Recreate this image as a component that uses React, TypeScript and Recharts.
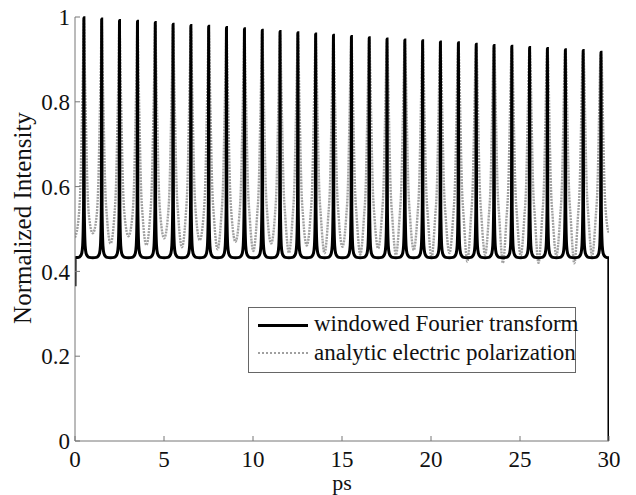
import React from "react";
import { LineChart, Line, XAxis, YAxis } from "recharts";

// peak positions (ps) and heights of the windowed Fourier transform
const peakTimes = [
  0.5, 1.5, 2.5, 3.51, 4.51, 5.51, 6.51, 7.51, 8.51, 9.52, 10.52, 11.52, 12.52,
  13.52, 14.52, 15.53, 16.53, 17.53, 18.53, 19.53, 20.53, 21.54, 22.54, 23.54,
  24.54, 25.54, 26.54, 27.55, 28.55, 29.55,
];
const peakHeights = [
  0.998, 0.995, 0.992, 0.99, 0.987, 0.983, 0.98, 0.978, 0.975, 0.972, 0.969,
  0.966, 0.963, 0.96, 0.957, 0.954, 0.951, 0.948, 0.946, 0.944, 0.941, 0.939,
  0.936, 0.933, 0.931, 0.928, 0.926, 0.923, 0.921, 0.917,
];
// gray curve minima between consecutive peaks
const grayMinima = [
  0.49, 0.466, 0.483, 0.462, 0.478, 0.457, 0.474, 0.452, 0.47, 0.448, 0.466,
  0.444, 0.461, 0.443, 0.458, 0.44, 0.454, 0.439, 0.45, 0.432, 0.443, 0.423,
  0.439, 0.42, 0.437, 0.42, 0.437, 0.419, 0.437,
];

// black line foot around each spike
const blackBase = 0.432;
const blackStart = 0.365;
const blackEnd = 0;
const blackFootOffsets = [0.02, 0.07, 0.12, 0.2, 0.3];
const blackFootLevels = [0.55, 0.46, 0.443, 0.436, 0.433];

// gray line shoulders around each peak
const grayStart = 0.48;
const grayEnd = 0.49;
const grayShoulderOffsets = [0.05, 0.11, 0.19, 0.3];
const grayShoulderLevels = [0.88, 0.76, 0.61, 0.525];

const xTicks = [0, 5, 10, 15, 20, 25, 30];
const yTicks = [0, 0.2, 0.4, 0.6, 0.8, 1];

type Pt = { t: number; v: number };

function buildBlack(): Pt[] {
  const pts: Pt[] = [
    { t: 0, v: blackStart },
    { t: 0.005, v: blackBase },
  ];
  peakTimes.forEach((c, i) => {
    for (let j = blackFootOffsets.length - 1; j >= 0; j--) {
      pts.push({ t: c - blackFootOffsets[j], v: blackFootLevels[j] });
    }
    pts.push({ t: c, v: peakHeights[i] });
    blackFootOffsets.forEach((o, j) => pts.push({ t: c + o, v: blackFootLevels[j] }));
    if (i < peakTimes.length - 1) {
      pts.push({ t: (c + peakTimes[i + 1]) / 2, v: blackBase });
    }
  });
  pts.push({ t: 29.99, v: blackBase });
  pts.push({ t: 30, v: blackEnd });
  return pts;
}

function buildGray(): Pt[] {
  const pts: Pt[] = [{ t: 0, v: grayStart }];
  peakTimes.forEach((c, i) => {
    for (let j = grayShoulderOffsets.length - 1; j >= 0; j--) {
      const t = c - grayShoulderOffsets[j];
      if (t > 0.02) pts.push({ t, v: grayShoulderLevels[j] });
    }
    pts.push({ t: c, v: peakHeights[i] - 0.004 });
    grayShoulderOffsets.forEach((o, j) => pts.push({ t: c + o, v: grayShoulderLevels[j] }));
    if (i < peakTimes.length - 1) {
      pts.push({ t: (c + peakTimes[i + 1]) / 2, v: grayMinima[i] });
    }
  });
  pts.push({ t: 30, v: grayEnd });
  return pts;
}

const blackData = buildBlack();
const grayData = buildGray();

const FONT = '"Liberation Serif", "Times New Roman", serif';
const FRAME = "#777";
const tickStyle = { fontFamily: FONT, fontSize: 23, fill: "#111" };

export default function App() {
  return (
    <div style={{ position: "absolute", left: 0, top: 0, width: 636, height: 495, background: "#fff" }}>
      <LineChart width={636} height={495} margin={{ top: 17, right: 27, left: 0, bottom: 0 }}>
        <XAxis
          dataKey="t"
          type="number"
          domain={[0, 30]}
          ticks={xTicks}
          allowDataOverflow
          height={54}
          tickSize={-5}
          tickMargin={15}
          tick={tickStyle}
          stroke={FRAME}
          label={{
            content: () => (
              <text x={342} y={490} textAnchor="middle" fontFamily={FONT} fontSize={22} fill="#111">
                ps
              </text>
            ),
          }}
        />
        <XAxis
          xAxisId="top"
          orientation="top"
          dataKey="t"
          type="number"
          domain={[0, 30]}
          ticks={xTicks}
          height={0}
          tickSize={-5}
          tick={false}
          stroke={FRAME}
        />
        <YAxis
          type="number"
          domain={[0, 1]}
          ticks={yTicks}
          width={75}
          tickSize={-5}
          tickMargin={10}
          tick={tickStyle}
          tickFormatter={(v: number) => String(v)}
          stroke={FRAME}
          label={{
            content: () => (
              <text
                transform="translate(31,218) rotate(-90)"
                textAnchor="middle"
                fontFamily={FONT}
                fontSize={25}
                fill="#111"
              >
                Normalized Intensity
              </text>
            ),
          }}
        />
        <YAxis
          yAxisId="right"
          orientation="right"
          type="number"
          domain={[0, 1]}
          ticks={yTicks}
          width={0}
          tickSize={-5}
          tick={false}
          stroke={FRAME}
        />
        <Line
          data={grayData}
          dataKey="v"
          type="monotone"
          stroke="#a0a0a0"
          strokeWidth={2.4}
          strokeDasharray="2 1"
          dot={false}
          activeDot={false}
          isAnimationActive={false}
        />
        <Line
          data={blackData}
          dataKey="v"
          type="monotone"
          stroke="#000"
          strokeWidth={3}
          dot={false}
          activeDot={false}
          isAnimationActive={false}
        />
      </LineChart>
      <div
        style={{
          position: "absolute",
          left: 248,
          top: 307,
          width: 326,
          height: 64,
          border: "1px solid #666",
          background: "#fff",
          fontFamily: FONT,
          fontSize: 23,
          color: "#111",
        }}
      >
        <div style={{ position: "absolute", left: 9, top: 16, width: 50, height: 0, borderTop: "3px solid #000" }} />
        <div style={{ position: "absolute", left: 65, top: 2, whiteSpace: "nowrap", lineHeight: "28px" }}>
          windowed Fourier transform
        </div>
        <div style={{ position: "absolute", left: 9, top: 44, width: 50, height: 0, borderTop: "2px dotted #a0a0a0" }} />
        <div style={{ position: "absolute", left: 65, top: 31, whiteSpace: "nowrap", lineHeight: "28px" }}>
          analytic electric polarization
        </div>
      </div>
    </div>
  );
}
